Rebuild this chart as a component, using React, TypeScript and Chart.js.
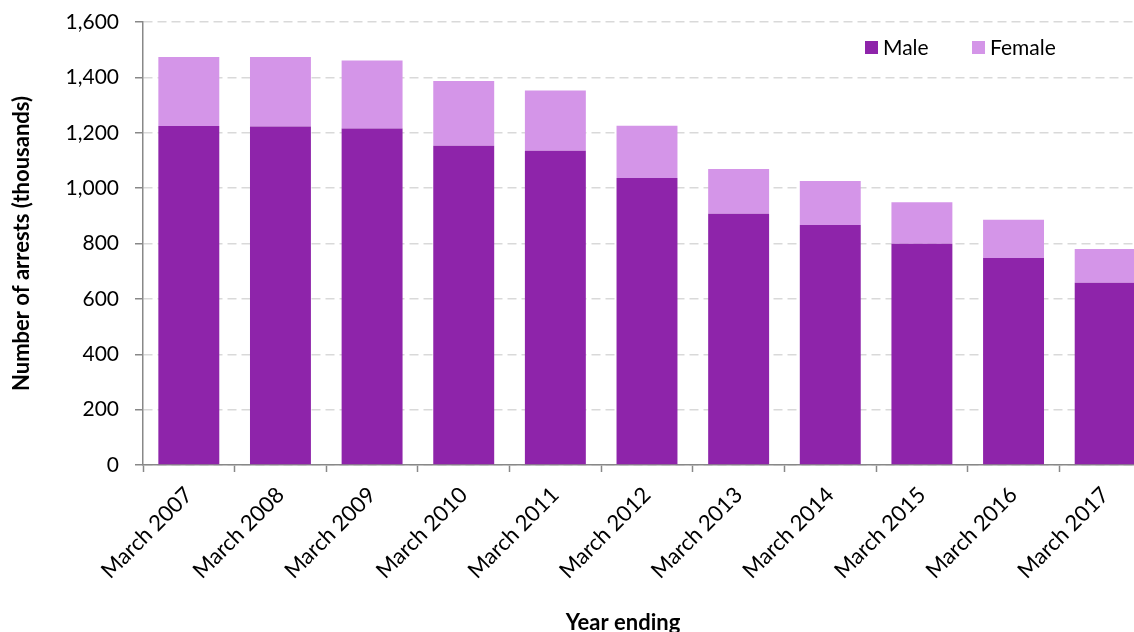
import React, { useEffect, useRef } from "react";
import { Chart, registerables } from "chart.js";

Chart.register(...registerables);

const categories = [
  "March 2007", "March 2008", "March 2009", "March 2010", "March 2011", "March 2012",
  "March 2013", "March 2014", "March 2015", "March 2016", "March 2017",
];
const maleValues = [1224, 1223, 1215, 1153, 1135, 1037, 907, 867, 799, 748, 658];
const femaleValues = [250, 251, 246, 234, 218, 188, 162, 159, 150, 138, 122];
const seriesNames = ["Male", "Female"];
const seriesColors = ["#8E24AA", "#D495E8"];
const yTickMax = 1600;
const yTickStep = 200;
const yTitle = "Number of arrests (thousands)";
const xTitle = "Year ending";

const FONT = "Lato, 'Open Sans', sans-serif";

const overlayPlugin = {
  id: "overlay",
  afterDraw(chart: any) {
    const ctx = chart.ctx;
    const area = chart.chartArea;
    ctx.save();
    // x axis title
    ctx.font = `bold 22px ${FONT}`;
    ctx.fillStyle = "#000";
    ctx.textAlign = "center";
    ctx.textBaseline = "middle";
    ctx.fillText(xTitle, area.left + 480, chart.height - 9);
    // legend
    ctx.font = `21px ${FONT}`;
    ctx.textAlign = "left";
    const starts = [area.left + 722, area.left + 829];
    chart.data.datasets.forEach((ds: any, i: number) => {
      const x = starts[i];
      const y = area.top + 19;
      ctx.fillStyle = ds.backgroundColor;
      ctx.fillRect(x, y, 13, 13);
      ctx.fillStyle = "#000";
      ctx.fillText(ds.label, x + 18, y + 7);
    });
    ctx.restore();
  },
};

export default function App() {
  const ref = useRef<HTMLCanvasElement>(null);
  useEffect(() => {
    const canvas = ref.current!;
    const chart = new Chart(canvas, {
      type: "bar",
      data: {
        labels: categories,
        datasets: [
          { label: seriesNames[0], data: maleValues, backgroundColor: seriesColors[0], borderWidth: 0 },
          { label: seriesNames[1], data: femaleValues, backgroundColor: seriesColors[1], borderWidth: 0 },
        ],
      },
      options: {
        responsive: false,
        animation: false,
        locale: "en-US",
        layout: { padding: { top: 22, right: 9, left: 0, bottom: 0 } },
        plugins: { legend: { display: false }, tooltip: { enabled: false } },
        datasets: { bar: { barPercentage: 0.665, categoryPercentage: 1 } },
        scales: {
          x: {
            stacked: true,
            afterFit: (s: any) => { s.height = 167; s.paddingLeft = 0; s.paddingRight = 0; },
            grid: { display: true, drawOnChartArea: false, drawTicks: true, offset: true, tickLength: 7, tickColor: "#888888", tickWidth: 1.5 },
            border: { display: true, color: "#888888", width: 1.5 },
            ticks: { minRotation: 45, maxRotation: 45, autoSkip: false, color: "#000", padding: 10, font: { family: FONT, size: 22 } },
          },
          y: {
            stacked: true,
            min: 0,
            max: yTickMax,
            afterFit: (s: any) => { s.width = 143; s.paddingTop = 0; s.paddingBottom = 0; },
            ticks: { stepSize: yTickStep, color: "#000", padding: 16, font: { family: FONT, size: 21 } },
            grid: { color: "#d9d9d9", lineWidth: 1.5, tickLength: 8, tickColor: "#888888", tickWidth: 1.5, tickBorderDash: [] },
            border: { display: true, color: "#888888", width: 1.5, dash: [9, 5] },
            title: { display: true, text: yTitle, color: "#000", padding: { top: 9, bottom: 0 }, font: { family: FONT, size: 22, weight: "bold" } },
          },
        },
      },
      plugins: [overlayPlugin],
    });
    return () => chart.destroy();
  }, []);
  return (
    <div style={{ position: "fixed", left: 0, top: 0, width: 1134, height: 632, overflow: "hidden", background: "#fff" }}>
      <canvas ref={ref} width={1160} height={632} style={{ width: 1160, height: 632, display: "block" }} />
    </div>
  );
}
